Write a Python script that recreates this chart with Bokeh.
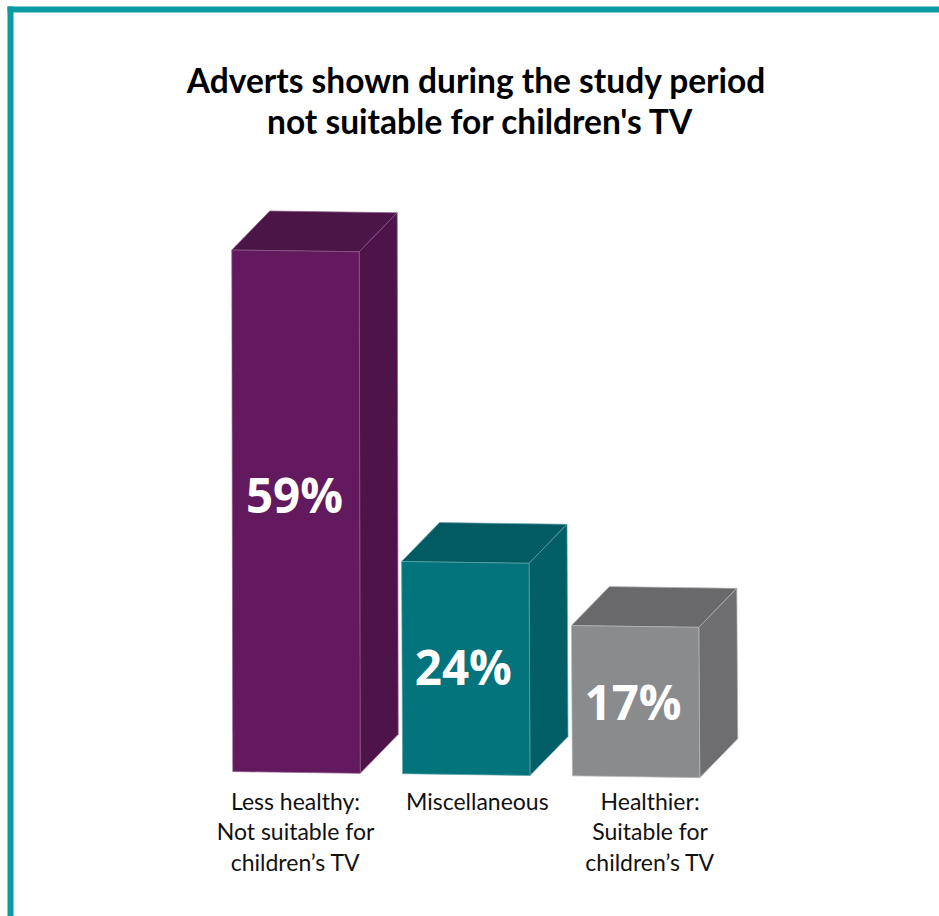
from bokeh.plotting import figure
from bokeh.models import Range1d, BoxAnnotation, ColumnDataSource
from bokeh.core.properties import value
from bokeh.embed import file_html
from bokeh.resources import INLINE

title_lines = ["Adverts shown during the study period", "not suitable for children's TV"]
categories = ["Less healthy:\nNot suitable for\nchildren\u2019s TV", "Miscellaneous", "Healthier:\nSuitable for\nchildren\u2019s TV"]
values = [59, 24, 17]
value_labels = ["59%", "24%", "17%"]
front_colors = ["#63195e", "#03737c", "#8a8b8d"]
top_colors = ["#4c1548", "#025a62", "#69696b"]
side_colors = ["#4e1449", "#025f67", "#6e6e70"]
edge_colors = ["#8a5a87", "#5fa3a9", "#b5b6b8"]

W, H = 939, 916
PX_CAT, PX_VAL = 169.8, 8.84     # pixels per category step / per percent
CX0, BASE0 = 295.0, 773.2        # page position of category 0 centre / value 0
x_rng = Range1d(-CX0 / PX_CAT, (W - CX0) / PX_CAT)
y_rng = Range1d((BASE0 - H) / PX_VAL, BASE0 / PX_VAL)

p = figure(width=W, height=H, x_range=x_rng, y_range=y_rng, output_backend="svg",
           toolbar_location=None, min_border=0, outline_line_color=None,
           x_axis_location=None, y_axis_location=None)
p.grid.visible = False

HALF = 63.7 / PX_CAT
DX, DY = 38 / PX_CAT, 39 / PX_VAL
TILT = 1.8 / PX_VAL
SKEW = 1.0 / PX_CAT
BASE_STEP = 2.15 / PX_VAL

front, top, side = ([], [], []), ([], [], []), ([], [], [])
for i, v in enumerate(values):
    b = (i - 1) * -BASE_STEP
    t = b + v
    l, r = i - HALF, i + HALF
    front[0].append([l, r, r + SKEW, l + SKEW])
    front[1].append([t, t - TILT, b - TILT, b]); front[2].append(front_colors[i])
    top[0].append([l, l + DX, r + DX, r])
    top[1].append([t, t + DY, t + DY - TILT, t - TILT]); top[2].append(top_colors[i])
    side[0].append([r, r + DX, r + DX + SKEW, r + SKEW])
    side[1].append([t - TILT, t + DY - TILT, b + DY - TILT, b - TILT]); side[2].append(side_colors[i])

for xs, ys, cs in (top, side, front):
    p.patches(xs, ys, fill_color=cs, line_color=edge_colors, line_width=0.7)

# value labels
vs = ColumnDataSource(dict(x=list(range(3)), y=[v / 2 for v in values], t=value_labels,
                           xo=[-1, -2, -2], yo=[-18, -1, 3]))
p.text("x", "y", text="t", source=vs, x_offset="xo", y_offset="yo", text_color="white",
       text_font=value("Open Sans"), text_font_style="bold", text_font_size="47.5px",
       text_align="center", text_baseline="middle")

# category labels
cs_ = ColumnDataSource(dict(x=list(range(3)), y=[0, 0, 0], t=categories, xo=[0, 12, 15], yo=[13, 13, 13]))
p.text("x", "y", text="t", source=cs_, x_offset="xo", y_offset="yo", text_color="#111111",
       text_font=value("Lato"), text_font_size="23px", text_line_height=1.09,
       text_align="center", text_baseline="top")

# title
tx = [(476 - CX0) / PX_CAT, (480 - CX0) / PX_CAT]
ty = [(BASE0 - 79) / PX_VAL, (BASE0 - 120.5) / PX_VAL]
p.text(tx, ty, text=title_lines, text_color="black", text_font=value("Lato"),
       text_font_style="bold", text_font_size="33.5px", text_align="center", text_baseline="middle")

# frame of the panel (screen y counts from the bottom here)
TEAL = "#0a9ba3"
for kw in (dict(left=7, right=W, top=H - 6, bottom=H - 12), dict(left=7, right=13, top=H - 6, bottom=0)):
    p.add_layout(BoxAnnotation(left_units="screen", right_units="screen", top_units="screen",
                               bottom_units="screen", fill_color=TEAL, fill_alpha=1,
                               line_color=None, **kw))

open("out.html", "w").write(file_html(p, INLINE))
